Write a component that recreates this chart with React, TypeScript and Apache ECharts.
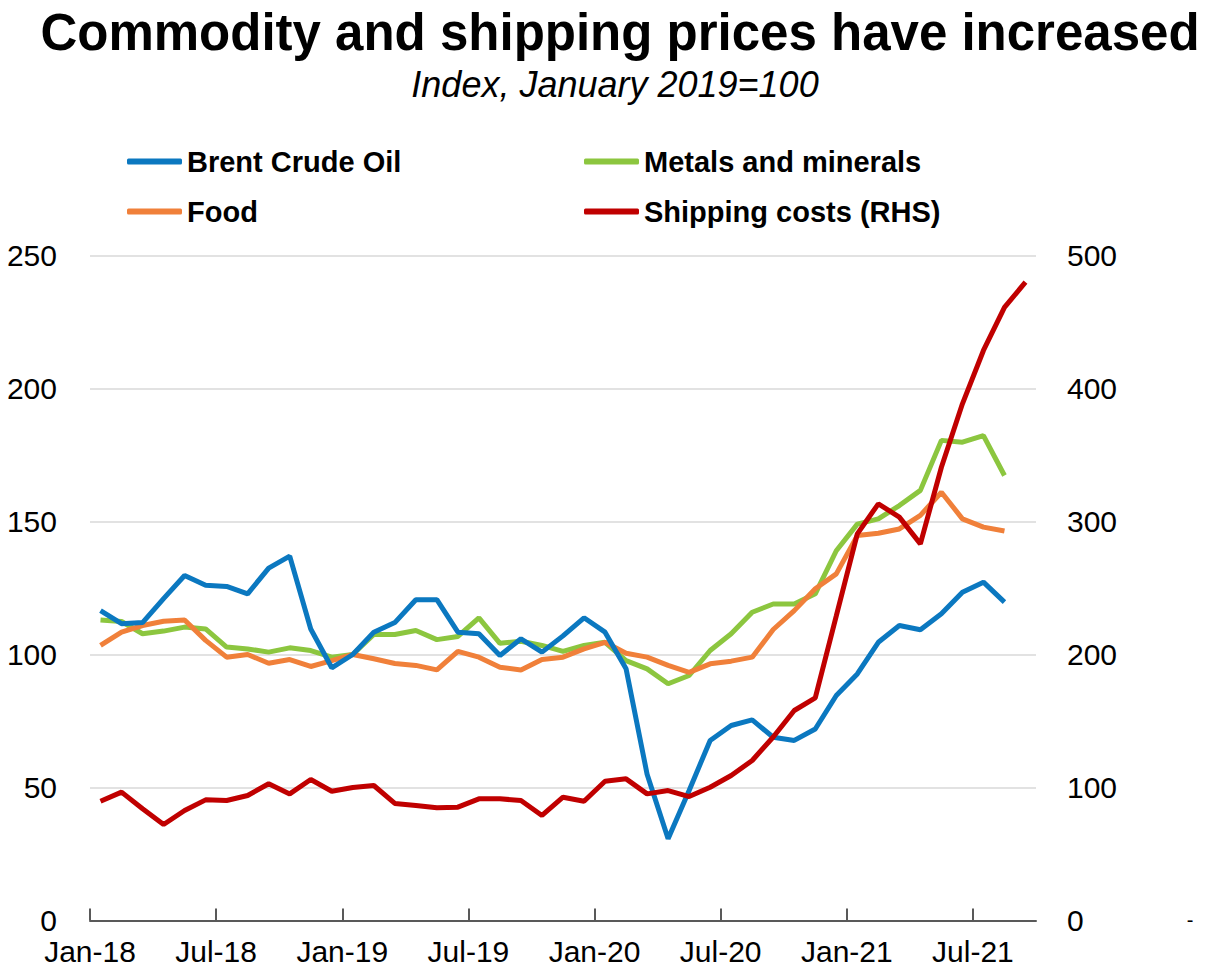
import React, { useEffect, useRef } from "react";
import * as echarts from "echarts";

// Monthly data, Jan-2018 onwards (index Jan 2019 = 100)
const tickLabels = ["Jan-18", "Jul-18", "Jan-19", "Jul-19", "Jan-20", "Jul-20", "Jan-21", "Jul-21"];
const monthCount = 45;

const brent = [116.5, 111.6, 112, 121, 129.7, 126, 125.6, 122.8, 132.5, 137, 109.6, 95, 100, 108.4, 112, 120.6, 120.6, 108.4, 107.8, 99.6, 105.9, 100.9, 107, 113.8, 108.4, 94.6, 55, 30.7, 48.9, 67.7, 73.3, 75.4, 68.9, 67.7, 72, 84.6, 92.7, 104.6, 110.9, 109.3, 115.3, 123.4, 127.2, 119.7];
const metals = [113, 112.4, 107.8, 108.8, 110.3, 109.6, 102.8, 102.1, 100.9, 102.5, 101.5, 99, 100, 107.5, 107.5, 109, 105.6, 106.8, 113.8, 104.2, 105, 103.4, 101.2, 103.4, 104.6, 97.7, 94.6, 89, 92.1, 101.5, 107.8, 115.9, 119, 119, 122.8, 139, 149, 151, 156, 161.7, 180.5, 179.8, 182.3, 167.3];
const food = [103.4, 108.4, 110.9, 112.5, 113, 105.3, 99, 100, 96.7, 98.1, 95.5, 97.7, 100, 98.4, 96.6, 95.9, 94.2, 101.2, 99, 95.2, 94.2, 98.1, 99, 102.1, 104.6, 100.5, 99, 95.9, 93.3, 96.5, 97.5, 99, 109.4, 116.5, 124.7, 130.3, 144.7, 145.6, 147.2, 152.3, 161, 151, 147.9, 146.4];
const shipping = [89.7, 96.5, 84, 72.2, 82.7, 90.7, 90.2, 94, 102.8, 95.2, 106, 97.2, 100, 101.5, 88, 86.5, 84.7, 85.2, 91.5, 91.5, 90.2, 79, 92.7, 89.7, 104.7, 106.5, 95.2, 97.7, 93.2, 100.2, 109, 120.3, 138, 157.9, 167.4, 229, 290.7, 313.3, 303.3, 283.2, 340.8, 388.5, 428.6, 461, 480];

const FONT = "'Liberation Sans', Arial, sans-serif";
const toPoints = (arr: number[]) => arr.map((v, i) => [i + 0.5, v]);
const tickVals = tickLabels.map((_, k) => k * 6);

export default function App() {
  const ref = useRef<HTMLDivElement>(null);
  useEffect(() => {
    if (!ref.current) return;
    const chart = echarts.init(ref.current, null, { renderer: "svg" });
    const legendText = { fontSize: 29, fontWeight: "bold" as const, color: "#000", fontFamily: FONT };
    chart.setOption({
      animation: false,
      backgroundColor: "#fff",
      graphic: [
        {
          type: "text", x: 620, y: 32,
          style: { text: "Commodity and shipping prices have increased", fontSize: 51, fontWeight: "bold", fontFamily: FONT, fill: "#000", align: "center", verticalAlign: "middle" },
        },
        {
          type: "text", x: 615, y: 84,
          style: { text: "Index, January 2019=100", fontSize: 36, fontStyle: "italic", fontFamily: FONT, fill: "#000", align: "center", verticalAlign: "middle" },
        },
        {
          type: "text", x: 1190, y: 920,
          style: { text: "-", fontSize: 20, fontFamily: FONT, fill: "#000", align: "center", verticalAlign: "middle" },
        },
      ],
      legend: [
        {
          data: ["Brent Crude Oil", "Food"], orient: "vertical", left: 127, top: 147, padding: 0,
          itemWidth: 55, itemHeight: 6, itemGap: 21, icon: "roundRect", textStyle: legendText,
        },
        {
          data: ["Metals and minerals", "Shipping costs (RHS)"], orient: "vertical", left: 584, top: 147, padding: 0,
          itemWidth: 55, itemHeight: 6, itemGap: 21, icon: "roundRect", textStyle: legendText,
        },
      ],
      grid: { left: 90, top: 255.5, width: 946, height: 665, containLabel: false },
      xAxis: {
        type: "value", min: 0, max: monthCount,
        axisLine: { show: true, lineStyle: { color: "#595959", width: 2 } },
        axisTick: { show: true, inside: true, length: 12, customValues: tickVals, lineStyle: { color: "#595959", width: 2 } },
        axisLabel: {
          customValues: tickVals, margin: 16, fontSize: 30, color: "#000", fontFamily: FONT,
          formatter: (v: number) => tickLabels[Math.round(v / 6)] ?? "",
        },
        splitLine: { show: false },
      },
      yAxis: [
        {
          type: "value", min: 0, max: 250, interval: 50,
          axisLine: { show: false }, axisTick: { show: false },
          axisLabel: { margin: 33, fontSize: 30, color: "#000", fontFamily: FONT },
          splitLine: { show: true, lineStyle: { color: "#d9d9d9", width: 1.5 } },
        },
        {
          type: "value", min: 0, max: 500, interval: 100, position: "right",
          axisLine: { show: false }, axisTick: { show: false },
          axisLabel: { margin: 31, fontSize: 30, color: "#000", fontFamily: FONT },
          splitLine: { show: false },
        },
      ],
      series: [
        { name: "Metals and minerals", type: "line", data: toPoints(metals), showSymbol: false, symbol: "none", color: "#8cc63f", lineStyle: { width: 5, color: "#8cc63f" }, z: 2 },
        { name: "Food", type: "line", data: toPoints(food), showSymbol: false, symbol: "none", color: "#f0803a", lineStyle: { width: 5, color: "#f0803a" }, z: 3 },
        { name: "Brent Crude Oil", type: "line", data: toPoints(brent), showSymbol: false, symbol: "none", color: "#0b78c0", lineStyle: { width: 5, color: "#0b78c0" }, z: 4 },
        { name: "Shipping costs (RHS)", type: "line", yAxisIndex: 1, data: toPoints(shipping), showSymbol: false, symbol: "none", color: "#c00000", lineStyle: { width: 5, color: "#c00000" }, z: 5 },
      ],
    });
    return () => chart.dispose();
  }, []);
  return <div ref={ref} style={{ position: "absolute", left: 0, top: 0, width: 1209, height: 972 }} />;
}
